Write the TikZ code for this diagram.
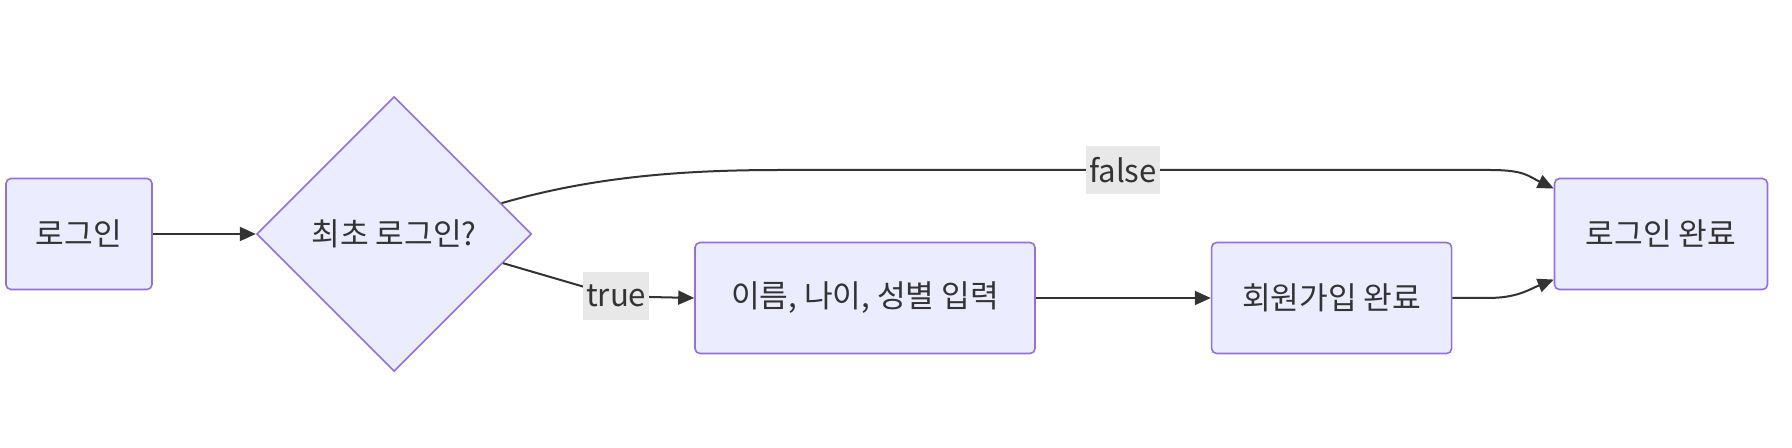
\documentclass[tikz,border=0pt]{standalone}
\usepackage{fontspec}
\setmainfont{Noto Sans CJK KR}
\usetikzlibrary{shapes.geometric, arrows.meta, positioning}
\definecolor{nodefill}{HTML}{ECECFF}
\definecolor{nodeline}{HTML}{9370DB}
\definecolor{edgeline}{HTML}{333333}
\definecolor{labelfill}{HTML}{E8E8E8}

\begin{document}
\begin{tikzpicture}[
    x=0.5pt, y=-0.5pt,
    font=\fontsize{15.6pt}{18pt}\selectfont,
    % Styles
    base/.style = {draw=nodeline, fill=nodefill, line width=0.8pt, text=edgeline, align=center},
    stepbox/.style = {base, rectangle, rounded corners=2.5pt, minimum height=55.5pt, inner sep=0pt},
    decision/.style = {base, diamond, minimum size=137.5pt, inner sep=0pt},
    edgelabel/.style = {fill=labelfill, text=edgeline, inner sep=1.5pt, minimum height=24pt},
    arrow/.style = {-{Triangle[length=8pt, width=7pt]}, line width=1pt, draw=edgeline}
]

\useasboundingbox (0,0) rectangle (1792,448);

% --- 1. LOGIN & CHECK ---
\node[stepbox, minimum width=73pt] (login) at (79,234) {로그인};
\node[decision, right=51.5pt of login] (first) {최초 로그인?};

\draw[arrow] (login) -- (first);

% --- 2. SIGN-UP BRANCH ---
\node[stepbox, minimum width=170pt] (input) at (865,298) {이름, 나이, 성별 입력};
\node[stepbox, minimum width=120pt, right=87.5pt of input] (signup) {회원가입 완료};

\draw[arrow] (first.-15.5) -- ++(113,33) node[edgelabel] {true} -- (input.west);
\draw[arrow] (input) -- (signup);

% --- 3. DONE ---
\node[stepbox, minimum width=106.5pt] (done) at (1661,234) {로그인 완료};

\coordinate (falseleft) at (780,170);
\coordinate (falseright) at (1490,170);

\draw[arrow] (first.16) .. controls +(90,-26) and +(-100,0) .. (falseleft)
    -- node[edgelabel, pos=0.483] {false} (falseright)
    .. controls +(35,0) and +(-25,-12) .. (done.157);
\draw[arrow] (signup.east) -- ++(35,0) .. controls +(30,0) and +(-25,10) .. (done.203);

\end{tikzpicture}
\end{document}
